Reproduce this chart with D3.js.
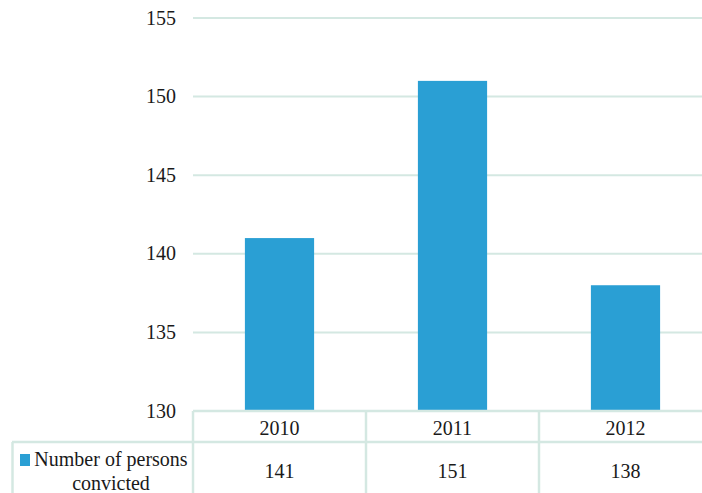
<!DOCTYPE html>
<html><head><meta charset="utf-8">
<script src="https://cdn.jsdelivr.net/npm/d3@7"></script>
<style>html,body{margin:0;padding:0;background:#fff;}svg{display:block;}</style>
</head><body>
<svg id="c" width="702" height="493"></svg>
<script>
const categories = ["2010","2011","2012"];
const values = [141,151,138];
const seriesName = ["Number of persons","convicted"];
const yTicks = [130,135,140,145,150,155];

const FONT = "Liberation Serif";
const FS = 20;
const svg = d3.select("#c");
const gridColor = "#d4e8e2";
const barColor = "#2a9fd4";
const textColor = "#1a1a1a";
const x = d3.scaleBand().domain(categories).range([193,712]).paddingInner(0.6).paddingOuter(0.3);
const y = d3.scaleLinear().domain([130,155]).range([411,18]);

// gridlines
svg.append("g").selectAll("line").data(yTicks.slice(1)).join("line")
  .attr("x1",193).attr("x2",702).attr("y1",d=>y(d)).attr("y2",d=>y(d))
  .attr("stroke",gridColor).attr("stroke-width",2);

// y axis labels
const yAxis = d3.axisLeft(y).tickValues(yTicks).tickSize(0).tickPadding(0);
const ga = svg.append("g").attr("transform","translate(176,0)").call(yAxis)
  .attr("font-family",FONT).attr("font-size",FS);
ga.select(".domain").remove();
ga.selectAll("text").attr("font-family",FONT).attr("font-size",FS).attr("fill",textColor).attr("dy","0.3em");

// bars
svg.append("g").selectAll("rect").data(values).join("rect")
  .attr("x",(d,i)=>x(categories[i])).attr("width",x.bandwidth())
  .attr("y",d=>y(d)).attr("height",d=>y(130)-y(d)).attr("fill",barColor);

// data table
const step = x.step();
const tableLeft = 193, tableRight = 712, r1 = 411, r2 = 442, r3 = 500;
const tg = svg.append("g").attr("stroke",gridColor).attr("stroke-width",2.5).attr("fill","none");
tg.append("line").attr("x1",tableLeft).attr("x2",tableRight).attr("y1",r1).attr("y2",r1);
tg.append("line").attr("x1",12).attr("x2",tableRight).attr("y1",r2).attr("y2",r2);
tg.append("line").attr("x1",12.5).attr("x2",12.5).attr("y1",r2).attr("y2",r3);
categories.forEach((c,i)=>{
  const xl = tableLeft + i*step;
  tg.append("line").attr("x1",xl).attr("x2",xl).attr("y1",r1).attr("y2",r3);
});

const tx = svg.append("g").attr("font-family",FONT).attr("font-size",FS).attr("fill",textColor);
tx.selectAll("text.cat").data(categories).join("text").attr("class","cat")
  .attr("x",d=>x(d)+x.bandwidth()/2).attr("y",435).attr("text-anchor","middle")
  .text(d=>d);
tx.selectAll("text.val").data(values).join("text").attr("class","val")
  .attr("x",(d,i)=>x(categories[i])+x.bandwidth()/2).attr("y",478).attr("text-anchor","middle")
  .text(d=>d);

// legend
svg.append("rect").attr("x",20).attr("y",454).attr("width",10).attr("height",12).attr("fill",barColor);
tx.append("text").attr("x",111).attr("y",466).attr("text-anchor","middle").text(seriesName[0]);
tx.append("text").attr("x",111).attr("y",490).attr("text-anchor","middle").text(seriesName[1]);
</script>
</body></html>
